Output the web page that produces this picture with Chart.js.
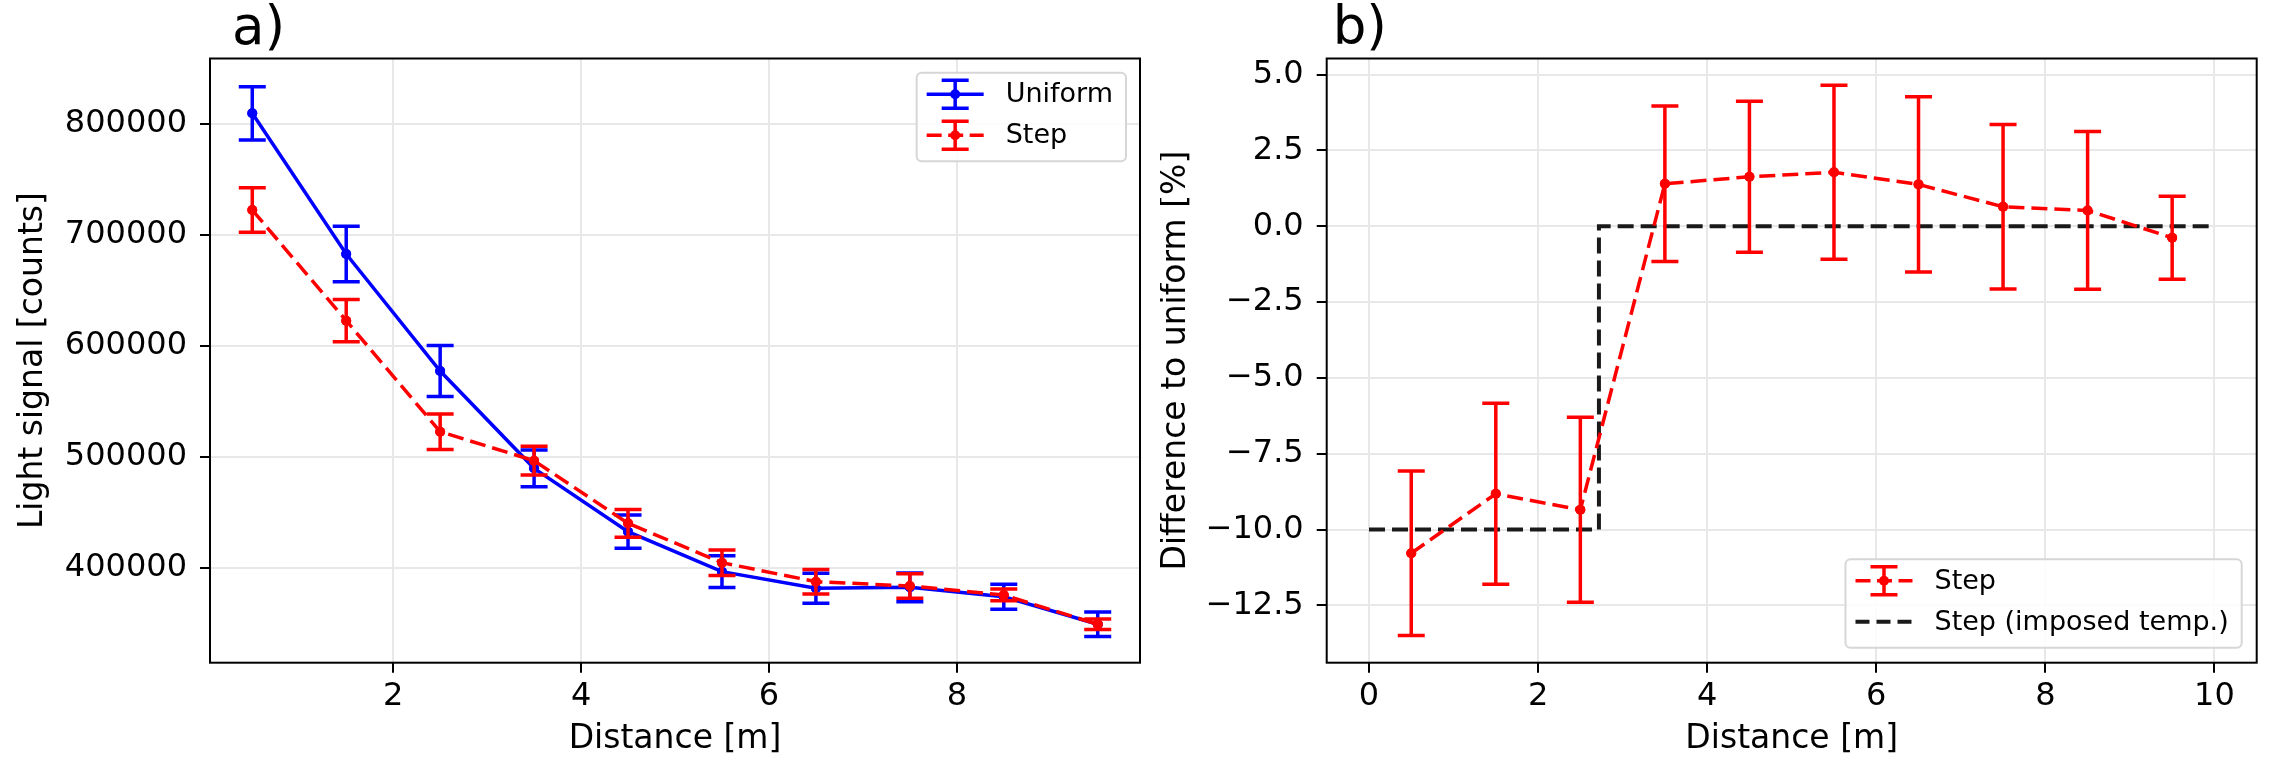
<!DOCTYPE html>
<html>
<head>
<meta charset="utf-8">
<script src="https://cdn.jsdelivr.net/npm/chart.js@4.4.1/dist/chart.umd.min.js"></script>
<style>
html,body{margin:0;padding:0;background:#fff;width:2276px;height:777px;overflow:hidden}
canvas{position:absolute;top:0}
#c1{left:0}
#c2{left:1160px}
</style>
</head>
<body>
<canvas id="c1" width="1160" height="777"></canvas>
<canvas id="c2" width="1116" height="777"></canvas>
<script>
// ---------- data ----------
const distance = [0.5, 1.5, 2.5, 3.5, 4.5, 5.5, 6.5, 7.5, 8.5, 9.5];
const uniformSignal = [809600, 682900, 577500, 489800, 432700, 396700, 381700, 382600, 374100, 349300];
const uniformError  = [24000, 25000, 23000, 16500, 15000, 14300, 13500, 13000, 11300, 11000];
const stepSignal    = [722500, 622800, 522800, 496700, 440300, 404800, 387700, 383800, 375700, 349300];
const stepError     = [20000, 19000, 16000, 13000, 12500, 11500, 11000, 11000, 5300, 4700];
const diffToUniform = [-10.78, -8.82, -9.35, 1.40, 1.63, 1.78, 1.38, 0.64, 0.52, -0.38];
const diffError     = [2.71, 2.98, 3.05, 2.56, 2.49, 2.87, 2.89, 2.71, 2.60, 1.37];
const imposedX = [0, 2.72, 2.72, 10];
const imposedY = [-10, -10, 0, 0];
const leftXTicks  = [2, 4, 6, 8];
const leftYTicks  = [400000, 500000, 600000, 700000, 800000];
const rightXTicks = [0, 2, 4, 6, 8, 10];
const rightYTicks = [-12.5, -10, -7.5, -5, -2.5, 0, 2.5, 5];
const panelTitles = ['a)', 'b)'];

// ---------- helpers ----------
const FONT = 'DejaVu Sans';
const pts = (xs, ys) => xs.map((x, i) => ({x: x, y: ys[i]}));
const CAP = 13.5;

const errorBarPlugin = {
  id: 'errorBars',
  afterDatasetDraw(chart, args) {
    const ds = chart.data.datasets[args.index];
    if (!ds.errors) return;
    const ctx = chart.ctx, xs = chart.scales.x, ys = chart.scales.y;
    ctx.save();
    ctx.strokeStyle = ds.borderColor;
    ctx.lineWidth = 3.5;
    ctx.setLineDash([]);
    ds.data.forEach((p, i) => {
      const x = xs.getPixelForValue(p.x);
      const yt = ys.getPixelForValue(p.y + ds.errors[i]);
      const yb = ys.getPixelForValue(p.y - ds.errors[i]);
      ctx.beginPath();
      ctx.moveTo(x, yt); ctx.lineTo(x, yb);
      ctx.moveTo(x - CAP, yt); ctx.lineTo(x + CAP, yt);
      ctx.moveTo(x - CAP, yb); ctx.lineTo(x + CAP, yb);
      ctx.stroke();
      ctx.beginPath();
      ctx.fillStyle = ds.borderColor;
      ctx.arc(x, ys.getPixelForValue(p.y), 5, 0, Math.PI * 2);
      ctx.fill();
    });
    ctx.restore();
  }
};

const decorPlugin = {
  id: 'decor',
  afterDraw(chart) {
    const o = chart.options.plugins.decor;
    const ctx = chart.ctx, a = chart.chartArea;
    ctx.save();
    // frame
    ctx.strokeStyle = '#000'; ctx.lineWidth = 2; ctx.setLineDash([]);
    ctx.strokeRect(a.left, a.top, a.right - a.left, a.bottom - a.top);
    // panel title
    ctx.fillStyle = '#000';
    ctx.font = '53px "' + FONT + '"';
    ctx.textBaseline = 'alphabetic'; ctx.textAlign = 'left';
    ctx.fillText(o.title, a.left + o.titleDx, 43.5);
    // legend
    const L = o.legend;
    ctx.font = '27px "' + FONT + '"';
    const tw = Math.max(...L.items.map(it => ctx.measureText(it.label).width));
    const padL = 10, hLen = 57, gap = 22, padR = 13;
    const w = padL + hLen + gap + tw + padR, h = 88.5;
    const bx = a.right - L.dx - w;
    const by = L.corner === 'top' ? a.top + L.dy : a.bottom - L.dy - h;
    ctx.beginPath();
    ctx.roundRect(bx, by, w, h, 5);
    ctx.fillStyle = 'rgba(255,255,255,0.85)'; ctx.fill();
    ctx.strokeStyle = '#d6d6d6'; ctx.lineWidth = 2; ctx.stroke();
    L.items.forEach((it, k) => {
      const y = by + 21.5 + k * 41;
      const x0 = bx + padL, x1 = x0 + hLen, xc = (x0 + x1) / 2;
      ctx.strokeStyle = it.color; ctx.fillStyle = it.color;
      ctx.lineWidth = it.lw;
      ctx.setLineDash(it.dash || []);
      ctx.beginPath(); ctx.moveTo(x0, y); ctx.lineTo(x1, y); ctx.stroke();
      ctx.setLineDash([]);
      if (it.err) {
        ctx.lineWidth = 3.5;
        ctx.beginPath();
        ctx.moveTo(xc, y - 14); ctx.lineTo(xc, y + 14);
        ctx.moveTo(xc - CAP, y - 14); ctx.lineTo(xc + CAP, y - 14);
        ctx.moveTo(xc - CAP, y + 14); ctx.lineTo(xc + CAP, y + 14);
        ctx.stroke();
        ctx.beginPath(); ctx.arc(xc, y, 5, 0, Math.PI * 2); ctx.fill();
      }
      ctx.fillStyle = '#000';
      ctx.textBaseline = 'middle';
      ctx.fillText(it.label, x1 + gap, y + 1);
    });
    ctx.restore();
  }
};

function axis(min, max, ticks, fmt, isY, size, titleText, titlePad) {
  return {
    type: 'linear', min: min, max: max,
    afterBuildTicks: s => { s.ticks = ticks.map(v => ({value: v})); },
    afterFit: s => { if (isY) s.width = size; else s.height = size; },
    grid: {color: '#e8e8e8', lineWidth: 2, drawTicks: true, tickLength: 10, tickColor: '#000', tickWidth: 2},
    border: {display: false},
    ticks: {color: '#000', padding: isY ? 13 : 5, font: {family: FONT, size: 32}, maxRotation: 0, autoSkip: false, callback: fmt},
    title: {display: true, text: titleText, color: '#000', font: {family: FONT, size: 33, lineHeight: 1}, padding: titlePad}
  };
}

const baseOpts = {
  responsive: false, animation: false, devicePixelRatio: 1, events: [],
};

// ---------- left chart ----------
new Chart(document.getElementById('c1'), {
  type: 'scatter',
  data: {
    datasets: [
      {label: 'Uniform', data: pts(distance, uniformSignal), errors: uniformError, showLine: true,
       borderColor: '#0000ff', backgroundColor: '#0000ff', borderWidth: 3.5, pointRadius: 5, pointBorderWidth: 0, order: 1},
      {label: 'Step', data: pts(distance, stepSignal), errors: stepError, showLine: true,
       borderColor: '#ff0000', backgroundColor: '#ff0000', borderWidth: 3.5, borderDash: [16, 7], pointRadius: 5, pointBorderWidth: 0, order: 0}
    ]
  },
  options: Object.assign({}, baseOpts, {
    layout: {padding: {top: 58.5, right: 20, bottom: 0, left: 0}},
    scales: {
      x: axis(0.05, 9.95, leftXTicks, v => String(v), false, 114.3, 'Distance [m]', {top: 0, bottom: 21.5}),
      y: axis(314700, 859000, leftYTicks, v => String(v), true, 210, 'Light signal [counts]', {top: 16.5, bottom: 0})
    },
    plugins: {
      legend: {display: false}, tooltip: {enabled: false},
      decor: {title: panelTitles[0], titleDx: 22,
        legend: {corner: 'top', dx: 14, dy: 14.3, items: [
          {label: 'Uniform', color: '#0000ff', lw: 3.5, err: true},
          {label: 'Step', color: '#ff0000', lw: 3.5, dash: [15, 6.5], err: true}
        ]}}
    }
  }),
  plugins: [errorBarPlugin, decorPlugin]
});

// ---------- right chart ----------
const fmtPct = v => v.toFixed(1).replace('-', '\u2212');
new Chart(document.getElementById('c2'), {
  type: 'scatter',
  data: {
    datasets: [
      {label: 'Step', data: pts(distance, diffToUniform), errors: diffError, showLine: true,
       borderColor: '#ff0000', backgroundColor: '#ff0000', borderWidth: 3.5, borderDash: [16, 7], pointRadius: 5, pointBorderWidth: 0, order: 0},
      {label: 'Step (imposed temp.)', data: pts(imposedX, imposedY), showLine: true,
       borderColor: '#1a1a1a', backgroundColor: '#1a1a1a', borderWidth: 4, borderDash: [16, 7], pointRadius: 0, order: 1}
    ]
  },
  options: Object.assign({}, baseOpts, {
    layout: {padding: {top: 58.5, right: 19.3, bottom: 0, left: 0}},
    scales: {
      x: axis(-0.5, 10.5, rightXTicks, v => String(v), false, 114.3, 'Distance [m]', {top: 0, bottom: 21.5}),
      y: axis(-14.39, 5.53, rightYTicks, fmtPct, true, 166.7, 'Difference to uniform [%]', {top: 0, bottom: 0})
    },
    plugins: {
      legend: {display: false}, tooltip: {enabled: false},
      decor: {title: panelTitles[1], titleDx: 6,
        legend: {corner: 'bottom', dx: 15, dy: 15, items: [
          {label: 'Step', color: '#ff0000', lw: 3.5, dash: [15, 6.5], err: true},
          {label: 'Step (imposed temp.)', color: '#1a1a1a', lw: 4, dash: [14, 7]}
        ]}}
    }
  }),
  plugins: [errorBarPlugin, decorPlugin]
});
</script>
</body>
</html>
